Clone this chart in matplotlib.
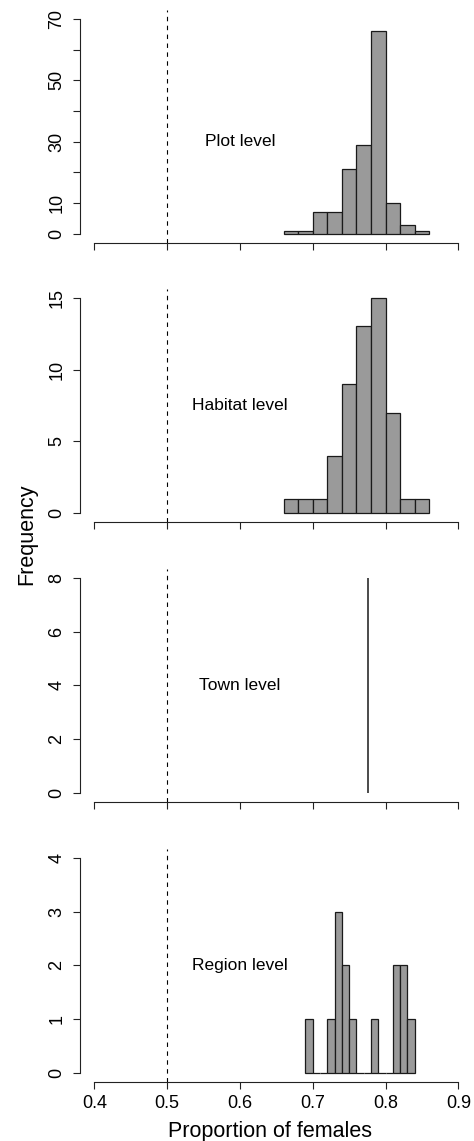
"""
    Four stacked histograms of the proportion of females at plot, habitat,
    town and region level, drawn in the style of an R base plot.
"""


# ------ Environment Setup ------ #
import matplotlib
matplotlib.use("Agg")
import matplotlib.pyplot as plt


# ------ Data ------ #
# plot level: bin edges & counts
plot_edges = [0.66, 0.68, 0.70, 0.72, 0.74, 0.76, 0.78, 0.80, 0.82, 0.84, 0.86]
plot_counts = [1, 1, 7, 7, 21, 29, 66, 10, 3, 1]

# habitat level
habitat_edges = [0.66, 0.68, 0.70, 0.72, 0.74, 0.76, 0.78, 0.80, 0.82, 0.84, 0.86]
habitat_counts = [1, 1, 1, 4, 9, 13, 15, 7, 1, 1]

# town level: all values identical -> a single line
town_value = 0.7755
town_count = 8

# region level
region_edges = [0.69, 0.70, 0.71, 0.72, 0.73, 0.74, 0.75, 0.76, 0.77, 0.78,
                0.79, 0.80, 0.81, 0.82, 0.83, 0.84]
region_counts = [1, 0, 0, 1, 3, 2, 1, 0, 0, 1, 0, 0, 2, 2, 1]

# labels & axes
panel_labels = ["Plot level", "Habitat level", "Town level", "Region level"]
label_y = [30, 7.5, 4, 2]
y_max = [70, 15, 8, 4]
y_ticks = [[0, 10, 20, 30, 40, 50, 60, 70], [0, 5, 10, 15], [0, 2, 4, 6, 8], [0, 1, 2, 3, 4]]
y_ticklabels = [["0", "10", "", "30", "", "50", "", "70"], ["0", "5", "10", "15"],
                ["0", "2", "4", "6", "8"], ["0", "1", "2", "3", "4"]]
x_ticks = [0.4, 0.5, 0.6, 0.7, 0.8, 0.9]
x_ticklabels = ["0.4", "0.5", "0.6", "0.7", "0.8", "0.9"]
null_value = 0.5


# ------ Plotting ------ #
plt.rcParams["font.family"] = ["Liberation Sans", "DejaVu Sans"]

W, H = 474, 1141
fig = plt.figure(figsize=(W / 100, H / 100), dpi=100)

# panel geometry in pixels (R-like plot regions)
left_px, right_px = 79.8, 472.9
bottoms_px = [242.5, 521.5, 801.5, 1081.5]
height_px = 232.3

bar_color = "#9a9a9a"
edge_color = "#1a1a1a"

hist_data = [(plot_edges, plot_counts), (habitat_edges, habitat_counts), None,
             (region_edges, region_counts)]

for i in range(4):
    ax = fig.add_axes([left_px / W, 1 - bottoms_px[i] / H,
                       (right_px - left_px) / W, height_px / H])

    # data
    if hist_data[i] is not None:
        edges, counts = hist_data[i]
        widths = [edges[k + 1] - edges[k] for k in range(len(counts))]
        ax.bar(edges[:-1], counts, width=widths, align="edge", color=bar_color,
               edgecolor=edge_color, linewidth=0.9, zorder=2)
    else:
        ax.vlines(town_value, 0, town_count, color=edge_color, linewidth=1.1)

    ax.axvline(null_value, color="black", linewidth=0.8, linestyle=(0, (4, 4)))
    ax.text(0.6, label_y[i], panel_labels[i], ha="center", va="center", fontsize=12.5)

    # R style axes
    ext_y = y_max[i] * 0.04
    ax.set_xlim(0.38, 0.92)
    ax.set_ylim(-ext_y, y_max[i] + ext_y)
    for side in ["top", "right"]:
        ax.spines[side].set_visible(False)
    for side in ["left", "bottom"]:
        ax.spines[side].set_linewidth(0.8)
        ax.spines[side].set_color("#222222")
    ax.spines["left"].set_bounds(0, y_max[i])
    ax.spines["bottom"].set_bounds(0.4, 0.9)

    ax.set_yticks(y_ticks[i])
    ax.set_yticklabels(y_ticklabels[i], rotation=90, va="center", fontsize=13)
    ax.set_xticks(x_ticks)
    if i == 3:
        ax.set_xticklabels(x_ticklabels, fontsize=13)
    else:
        ax.set_xticklabels([])
    ax.tick_params(direction="out", length=5.3, width=0.8, color="#222222")
    ax.tick_params(axis="y", pad=5)
    ax.tick_params(axis="x", pad=4.7)

# labeling
fig.text(270 / W, 1 - 1136.5 / H, "Proportion of females", ha="center", va="baseline",
         fontsize=15.5)
fig.text(27 / W, 1 - 534 / H, "Frequency", ha="center", va="center", rotation=90,
         fontsize=15.5)

fig.savefig("out.png", dpi=100)
